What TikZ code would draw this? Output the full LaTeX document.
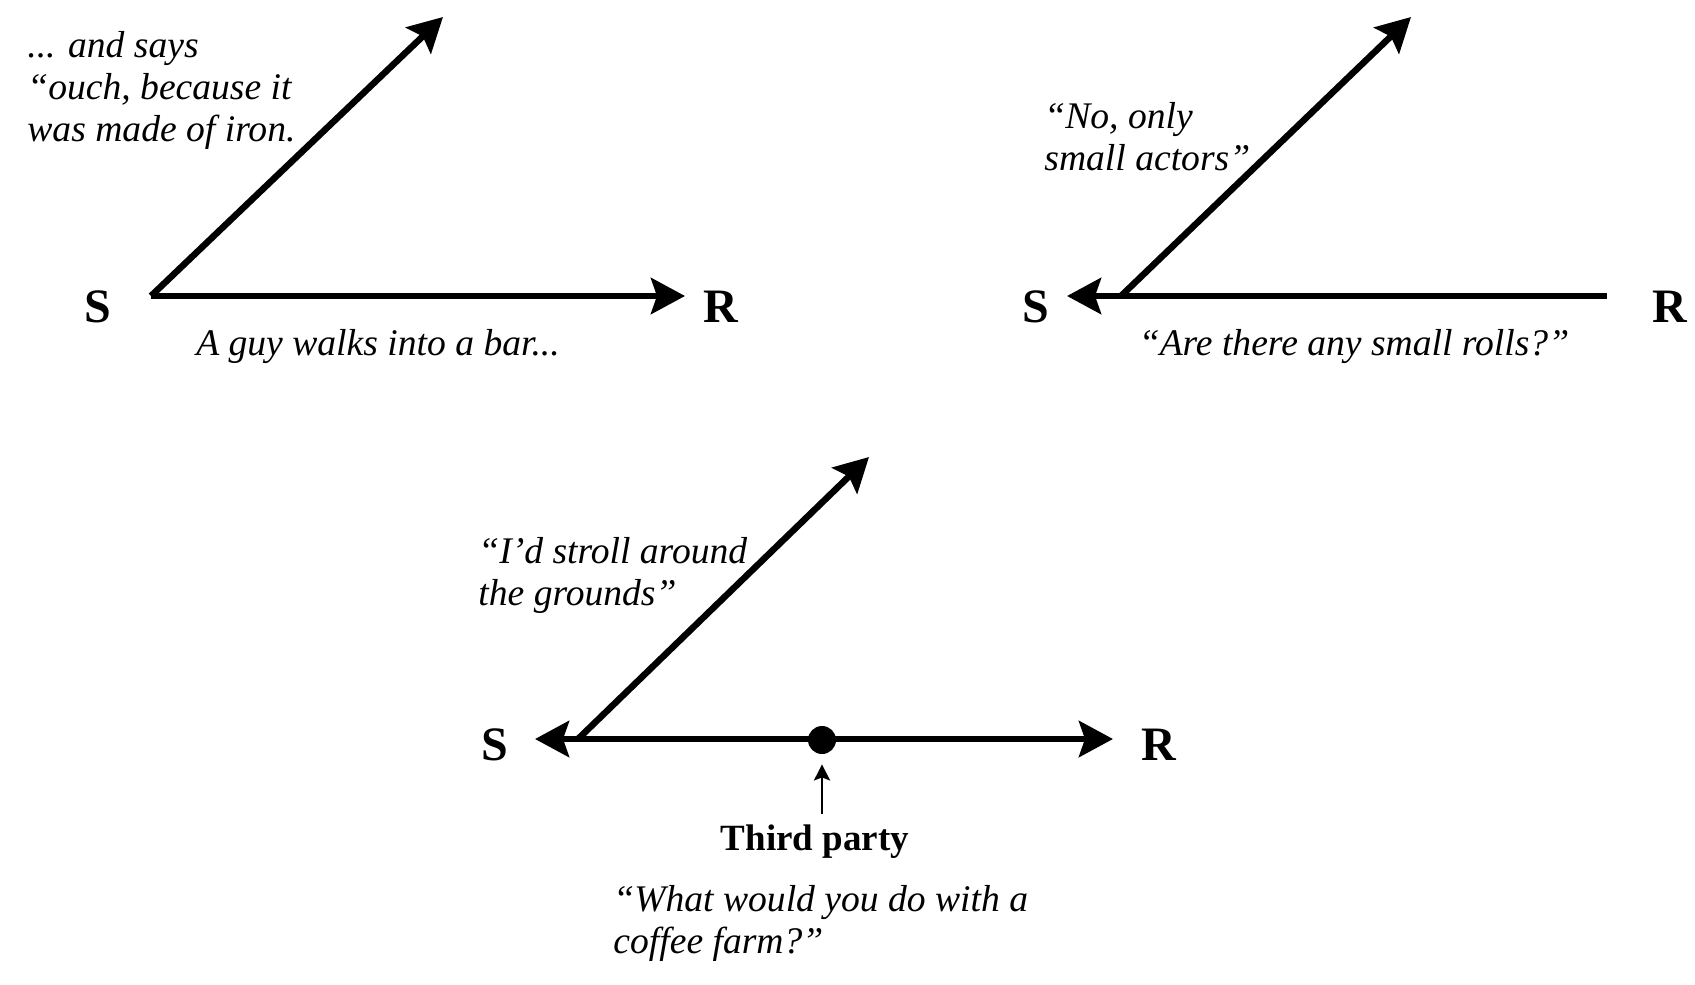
\documentclass[tikz,border=0pt]{standalone}
\usepackage{fontspec}
\setmainfont{Liberation Serif}
\usetikzlibrary{arrows.meta,positioning}

\begin{document}
\begin{tikzpicture}[x=0.5pt, y=-0.5pt,
    >={Stealth[length=17pt,width=18pt,inset=3pt]},
    ray/.style={line width=3.25pt},
    pointer/.style={line width=1.4pt, -{Stealth[length=8pt,width=8pt,inset=1.5pt]}},
    endlabel/.style={inner sep=0pt, anchor=base, font=\fontsize{24pt}{28pt}\selectfont\bfseries},
    saying/.style={inner sep=0pt, align=left, font=\fontsize{18.8pt}{21pt}\selectfont\itshape},
    party/.style={inner sep=0pt, font=\fontsize{18.5pt}{21pt}\selectfont\bfseries},
    dot/.style={circle, fill, inner sep=0pt, minimum size=14pt}]
  \useasboundingbox (0,0) rectangle (1695,984);

  % joke told to the receiver
  \coordinate (j1) at (151,296);
  \coordinate (up1) at (443,17);
  \coordinate (tr1) at (685,296);
  \draw[ray,->] (j1) -- (up1);
  \draw[ray,->] (j1) -- (tr1);
  \node[endlabel] (s1) at (98,322) {S};
  \node[endlabel] (r1) at (721,322) {R};
  \node[saying, anchor=base west] (said1) at (27,142)
    {... and says\\``ouch, because it\\was made of iron.};
  \node[saying, anchor=base] (joke1) at (378,355) {A guy walks into a bar...};

  % question back to the sender
  \coordinate (j2) at (1121,296);
  \coordinate (up2) at (1411,17);
  \coordinate (ts2) at (1067,296);
  \coordinate (e2) at (1607,296);
  \draw[ray,->] (j2) -- (up2);
  \draw[ray,->] (e2) -- (ts2);
  \node[endlabel] (s2) at (1036,322) {S};
  \node[endlabel] (r2) at (1670,322) {R};
  \node[saying, anchor=base west] (said2) at (1044,171)
    {``No, only\\small actors''};
  \node[saying, anchor=base] (ask2) at (1354,355) {``Are there any small rolls?''};

  % third party in between
  \coordinate (j3) at (578,739);
  \coordinate (up3) at (869,457);
  \coordinate (ts3) at (535,739);
  \coordinate (tr3) at (1113,739);
  \draw[ray,->] (j3) -- (up3);
  \draw[ray,<->] (ts3) -- (tr3);
  \node[dot] (third) at (822,740) {};
  \coordinate (pt) at (822,814);
  \draw[pointer, shorten >=5pt] (pt) -- (third);
  \node[party, below=5pt of pt, xshift=-3.5pt] (tp) {Third party};
  \node[endlabel] (s3) at (495,760) {S};
  \node[endlabel] (r3) at (1159,760) {R};
  \node[saying, anchor=base west] (said3) at (478,605)
    {``I'd stroll around\\the grounds''};
  \node[saying, anchor=base west] (ask3) at (613,953)
    {``What would you do with a\\coffee farm?''};
\end{tikzpicture}
\end{document}
